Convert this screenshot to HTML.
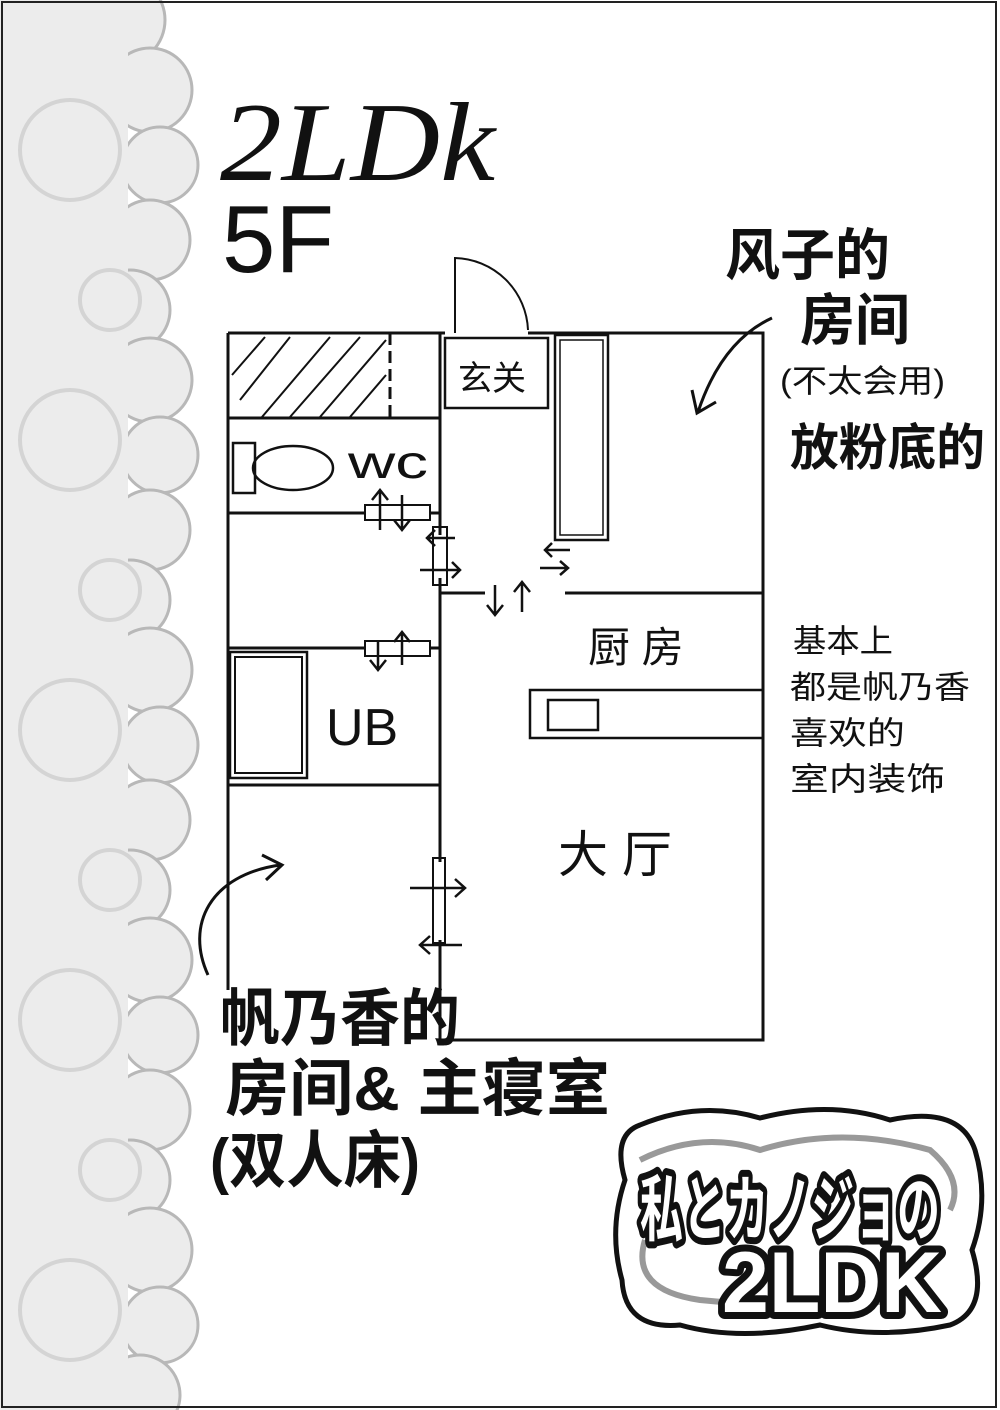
<!DOCTYPE html>
<html><head><meta charset="utf-8"><style>
html,body{margin:0;padding:0;background:#fff}
svg{display:block}
.t{font-family:"Liberation Sans","WenQuanYi Zen Hei","Noto Sans CJK SC",sans-serif;fill:#111}
</style></head><body>
<svg width="1000" height="1410" viewBox="0 0 1000 1410" xmlns="http://www.w3.org/2000/svg">
<rect x="0" y="0" width="1000" height="1410" fill="#fff"/>
<!-- lace -->
<g>
<g fill="#ececec" stroke="#b8b8b8" stroke-width="3">
<circle cx="120" cy="20" r="45"/><circle cx="150" cy="90" r="42"/><circle cx="160" cy="165" r="38"/>
<circle cx="150" cy="240" r="40"/><circle cx="130" cy="310" r="40"/><circle cx="150" cy="380" r="42"/>
<circle cx="160" cy="455" r="38"/><circle cx="150" cy="530" r="40"/><circle cx="130" cy="600" r="40"/>
<circle cx="150" cy="670" r="42"/><circle cx="160" cy="745" r="38"/><circle cx="150" cy="820" r="40"/>
<circle cx="130" cy="890" r="40"/><circle cx="150" cy="960" r="42"/><circle cx="160" cy="1035" r="38"/>
<circle cx="150" cy="1110" r="40"/><circle cx="130" cy="1180" r="40"/><circle cx="150" cy="1250" r="42"/>
<circle cx="160" cy="1325" r="38"/><circle cx="140" cy="1395" r="40"/>
</g>
<rect x="0" y="0" width="128" height="1410" fill="#ececec"/>
<g fill="none" stroke="#d4d4d4" stroke-width="4">
<circle cx="70" cy="150" r="50"/><circle cx="70" cy="440" r="50"/><circle cx="70" cy="730" r="50"/><circle cx="70" cy="1020" r="50"/><circle cx="70" cy="1310" r="50"/>
<circle cx="110" cy="300" r="30"/><circle cx="110" cy="590" r="30"/><circle cx="110" cy="880" r="30"/><circle cx="110" cy="1170" r="30"/>
</g>
</g>
<!-- frame -->
<rect x="2" y="2" width="994" height="1405" fill="none" stroke="#222" stroke-width="2"/>

<!-- title -->
<text x="220" y="180" class="t" font-size="112" textLength="275" lengthAdjust="spacingAndGlyphs" style="font-family:'Liberation Serif',serif;font-style:italic">2LDk</text>
<text x="222" y="272" class="t" font-size="96">5F</text>

<!-- floor plan -->
<g stroke="#111" stroke-width="3" fill="none">
<path d="M228,333 H445 M528,333 H763 V1040 H440 V975"/>
<path d="M228,333 V990"/>
<path d="M440,333 V535 M440,578 V862 M440,940 V975"/>
<path d="M440,593 H485 M565,593 H763"/>
<path d="M228,418 H440"/>
<path d="M390,333 V418" stroke-dasharray="12,6"/>
<path d="M228,513 H365 M430,513 H440"/>
<path d="M228,648 H365 M430,648 H440"/>
<path d="M228,785 H440"/>
<path d="M455,333 V258 A75,75 0 0 1 528,330" stroke-width="2"/>
<g stroke-width="2">
<path d="M240,400 L290,337 M262,417 L330,337 M290,417 L360,337 M320,417 L386,340 M350,417 L386,375 M232,375 L265,337"/>
</g>
<rect x="233" y="443" width="22" height="50" stroke-width="2.5"/>
<ellipse cx="293" cy="468" rx="40" ry="22" stroke-width="2.5"/>
<rect x="445" y="338" width="103" height="70" stroke-width="2.5"/>
<rect x="555" y="335" width="53" height="205" stroke-width="2.5"/>
<rect x="560" y="340" width="43" height="195" stroke-width="1.5"/>
<rect x="530" y="690" width="233" height="48" stroke-width="2.5"/>
<rect x="548" y="700" width="50" height="30" stroke-width="2.5"/>
<rect x="230" y="652" width="77" height="126" stroke-width="2.5"/>
<rect x="235" y="657" width="67" height="116" stroke-width="2"/>
<g stroke-width="2">
<rect x="365" y="505" width="65" height="15"/>
<rect x="365" y="641" width="65" height="15"/>
<rect x="433" y="527" width="14" height="58"/>
<rect x="433" y="858" width="12" height="85"/>
</g>
<g stroke-width="2.5">
<path d="M380,530 V490 M372,500 L380,490 L388,500"/>
<path d="M402,495 V530 M394,520 L402,530 L410,520"/>
<path d="M378,640 V670 M370,660 L378,670 L386,660"/>
<path d="M402,665 V632 M394,642 L402,632 L410,642"/>
<path d="M455,538 H427 M435,530 L427,538 L435,546"/>
<path d="M420,570 H460 M452,562 L460,570 L452,578"/>
<path d="M495,585 V615 M487,605 L495,615 L503,605"/>
<path d="M522,612 V582 M514,592 L522,582 L530,592"/>
<path d="M570,550 H545 M552,543 L545,550 L552,557"/>
<path d="M540,568 H568 M560,561 L568,568 L560,575"/>
<path d="M410,888 H465 M455,879 L465,888 L455,897"/>
<path d="M462,945 H420 M430,936 L420,945 L430,954"/>
</g>
<path d="M772,318 C735,335 712,370 698,412 M692,390 L697,413 L716,402" stroke-width="3"/>
<path d="M208,975 C185,925 210,875 280,865 M262,855 L282,865 L266,880" stroke-width="3"/>
</g>

<!-- room labels -->
<text x="458" y="390" class="t" font-size="34">玄关</text>
<text x="348" y="478" class="t" font-size="46" textLength="80" lengthAdjust="spacingAndGlyphs">wc</text>
<text x="588" y="662" class="t" font-size="42">厨 房</text>
<text x="326" y="745" class="t" font-size="52">UB</text>
<text x="558" y="872" class="t" font-size="50">大 厅</text>

<!-- notes -->
<g class="t" font-weight="bold">
<text x="725" y="275" font-size="56" textLength="165" lengthAdjust="spacingAndGlyphs">风子的</text>
<text x="800" y="340" font-size="56" textLength="110" lengthAdjust="spacingAndGlyphs">房间</text>
<text x="780" y="392" font-size="32" font-weight="normal" textLength="165" lengthAdjust="spacingAndGlyphs">(不太会用)</text>
<text x="790" y="465" font-size="50" textLength="195" lengthAdjust="spacingAndGlyphs">放粉底的</text>
<text x="220" y="1040" font-size="62" textLength="240" lengthAdjust="spacingAndGlyphs">帆乃香的</text>
<text x="225" y="1110" font-size="62" textLength="385" lengthAdjust="spacingAndGlyphs">房间&amp; 主寝室</text>
<text x="210" y="1182" font-size="62" textLength="210" lengthAdjust="spacingAndGlyphs">(双人床)</text>
</g>
<g class="t" font-size="32">
<text x="793" y="652" textLength="100" lengthAdjust="spacingAndGlyphs">基本上</text>
<text x="790" y="698" textLength="180" lengthAdjust="spacingAndGlyphs">都是帆乃香</text>
<text x="790" y="744" textLength="115" lengthAdjust="spacingAndGlyphs">喜欢的</text>
<text x="790" y="790" textLength="155" lengthAdjust="spacingAndGlyphs">室内装饰</text>
</g>

<!-- logo -->
<path d="M640,1125 Q700,1100 760,1118 Q830,1100 890,1120 Q960,1105 975,1150 Q990,1200 972,1250 Q990,1310 950,1325 Q880,1340 820,1325 Q740,1342 680,1325 Q625,1330 622,1280 Q608,1230 625,1180 Q612,1135 640,1125 Z" fill="#fff" stroke="#111" stroke-width="5"/>
<g fill="none" stroke="#999" stroke-width="6">
<path d="M640,1160 Q700,1130 760,1150 Q840,1125 930,1150 Q965,1180 950,1210"/>
<path d="M645,1240 Q630,1290 700,1300 Q800,1310 900,1300"/>
</g>
<g font-weight="bold" stroke="#111" stroke-width="14" fill="#fff" stroke-linejoin="round" style="paint-order:stroke">
<text x="640" y="1235" font-size="72" textLength="300" lengthAdjust="spacingAndGlyphs" style="font-family:'Noto Sans CJK JP',sans-serif">私とカノジョの</text>
<text x="722" y="1312" font-size="86" textLength="220" lengthAdjust="spacingAndGlyphs" style="font-family:'Liberation Sans',sans-serif">2LDK</text>
</g>
</svg>
</body></html>
